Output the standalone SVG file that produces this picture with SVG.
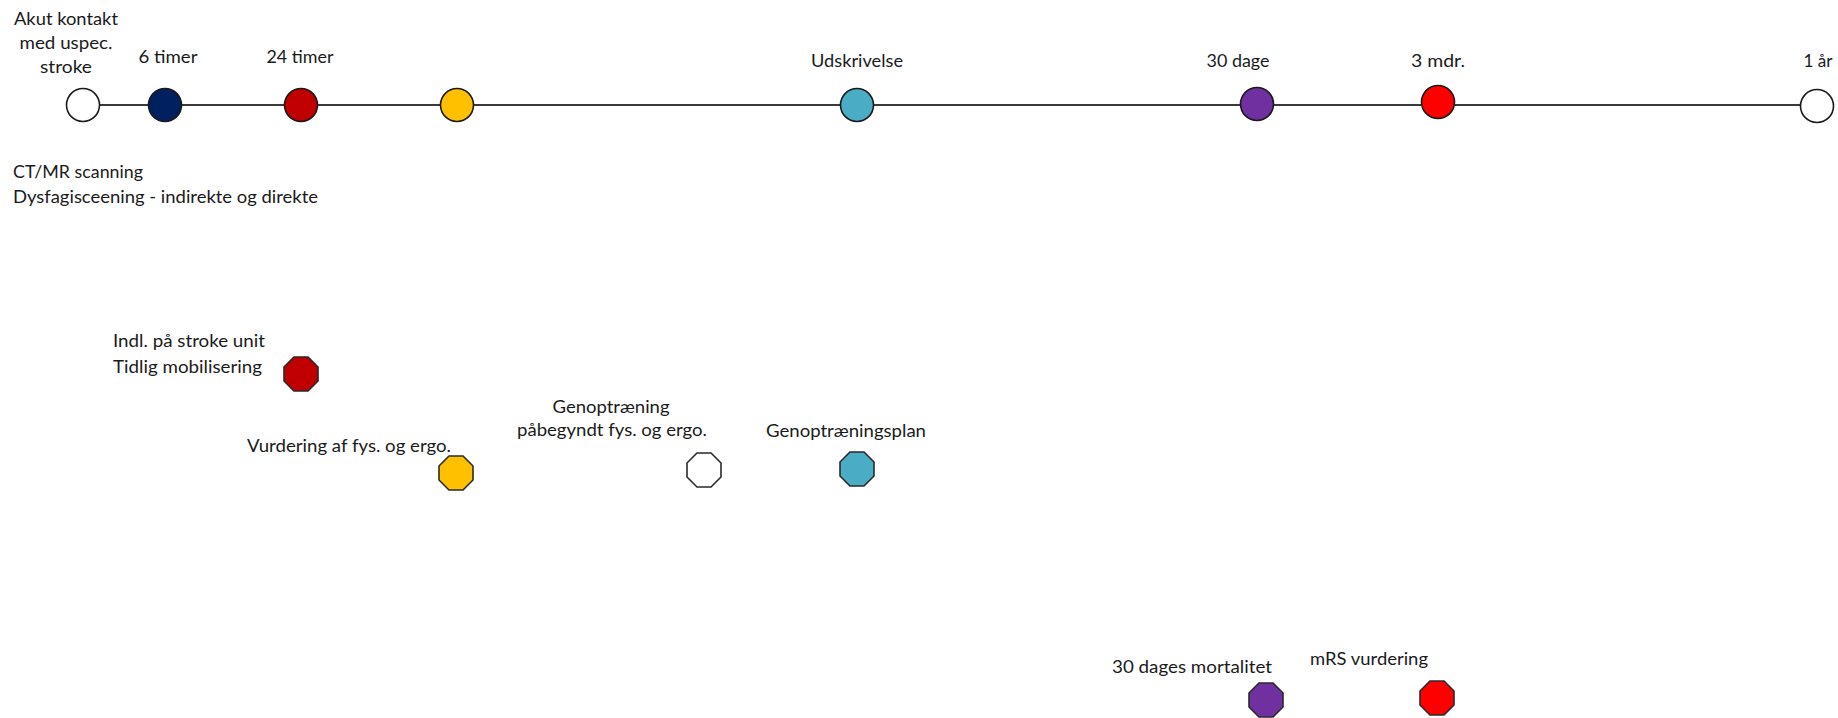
<svg xmlns="http://www.w3.org/2000/svg" xmlns:xlink="http://www.w3.org/1999/xlink" width="1838" height="718" viewBox="0 0 1838 718">
  <style>
    text { font-family: Lato, "Open Sans", "Liberation Sans", sans-serif; font-size: 17px; fill: #1a1a1a; }
    .c { text-anchor: middle; }
    .dot { stroke: #1a1a1a; stroke-width: 1.6; }
    .oct { stroke: #2a2a2a; stroke-width: 1.6; }
    .axis { stroke: #3a3a3a; stroke-width: 2; fill: none; }
  </style>
  <defs>
    <polygon id="octagon" points="7.04,-17 17,-7.04 17,7.04 7.04,17 -7.04,17 -17,7.04 -17,-7.04 -7.04,-17"/>
  </defs>
  <rect width="1838" height="718" fill="#ffffff"/>

  <g id="connectors">
    <line class="axis" x1="83" y1="105" x2="1817" y2="105"/>
  </g>

  <g id="t-akut">
    <circle class="dot" cx="83" cy="105" r="16.5" fill="#ffffff"/>
    <text class="c" x="66" y="25" textLength="104" lengthAdjust="spacingAndGlyphs">Akut kontakt</text>
    <text class="c" x="66" y="49" textLength="93" lengthAdjust="spacingAndGlyphs">med uspec.</text>
    <text class="c" x="66" y="73" textLength="52" lengthAdjust="spacingAndGlyphs">stroke</text>
  </g>
  <g id="t-6timer">
    <circle class="dot" cx="165" cy="105" r="16.5" fill="#002060"/>
    <text class="c" x="168" y="63" textLength="59" lengthAdjust="spacingAndGlyphs">6 timer</text>
  </g>
  <g id="t-24timer">
    <circle class="dot" cx="301" cy="105" r="16.5" fill="#c00000"/>
    <text class="c" x="300" y="63" textLength="67" lengthAdjust="spacingAndGlyphs">24 timer</text>
  </g>
  <g id="t-yellow">
    <circle class="dot" cx="457" cy="105" r="16.5" fill="#ffc000"/>
  </g>
  <g id="t-udskrivelse">
    <circle class="dot" cx="857" cy="105" r="16.5" fill="#4bacc6"/>
    <text class="c" x="857" y="67" textLength="92" lengthAdjust="spacingAndGlyphs">Udskrivelse</text>
  </g>
  <g id="t-30dage">
    <circle class="dot" cx="1257" cy="104" r="16.5" fill="#7030a0"/>
    <text class="c" x="1238" y="67" textLength="63" lengthAdjust="spacingAndGlyphs">30 dage</text>
  </g>
  <g id="t-3mdr">
    <circle class="dot" cx="1438" cy="102" r="16.5" fill="#ff0000"/>
    <text class="c" x="1438" y="67" textLength="54" lengthAdjust="spacingAndGlyphs">3 mdr.</text>
  </g>
  <g id="t-1aar">
    <circle class="dot" cx="1817" cy="106" r="16.5" fill="#ffffff"/>
    <text class="c" x="1818" y="67" textLength="29" lengthAdjust="spacingAndGlyphs">1 år</text>
  </g>

  <g id="n-scanning">
    <text x="13" y="178" textLength="130" lengthAdjust="spacingAndGlyphs">CT/MR scanning</text>
    <text x="13" y="203" textLength="305" lengthAdjust="spacingAndGlyphs">Dysfagisceening - indirekte og direkte</text>
  </g>

  <g id="n-strokeunit">
    <use xlink:href="#octagon" class="oct" x="301" y="374" fill="#c00000"/>
    <text x="113" y="347" textLength="152" lengthAdjust="spacingAndGlyphs">Indl. på stroke unit</text>
    <text x="113" y="373" textLength="149" lengthAdjust="spacingAndGlyphs">Tidlig mobilisering</text>
  </g>
  <g id="n-vurdering">
    <use xlink:href="#octagon" class="oct" x="456" y="473" fill="#ffc000"/>
    <text x="247" y="452" textLength="204" lengthAdjust="spacingAndGlyphs">Vurdering af fys. og ergo.</text>
  </g>
  <g id="n-genoptraening">
    <use xlink:href="#octagon" class="oct" x="704" y="470" fill="#ffffff"/>
    <text class="c" x="611" y="413" textLength="117" lengthAdjust="spacingAndGlyphs">Genoptræning</text>
    <text class="c" x="612" y="436" textLength="190" lengthAdjust="spacingAndGlyphs">påbegyndt fys. og ergo.</text>
  </g>
  <g id="n-plan">
    <use xlink:href="#octagon" class="oct" x="857" y="469" fill="#4bacc6"/>
    <text x="766" y="437" textLength="160" lengthAdjust="spacingAndGlyphs">Genoptræningsplan</text>
  </g>
  <g id="n-mortalitet">
    <use xlink:href="#octagon" class="oct" x="1266" y="700" fill="#7030a0"/>
    <text x="1112" y="673" textLength="160" lengthAdjust="spacingAndGlyphs">30 dages mortalitet</text>
  </g>
  <g id="n-mrs">
    <use xlink:href="#octagon" class="oct" x="1437" y="698" fill="#ff0000"/>
    <text x="1310" y="665" textLength="118" lengthAdjust="spacingAndGlyphs">mRS vurdering</text>
  </g>
</svg>
